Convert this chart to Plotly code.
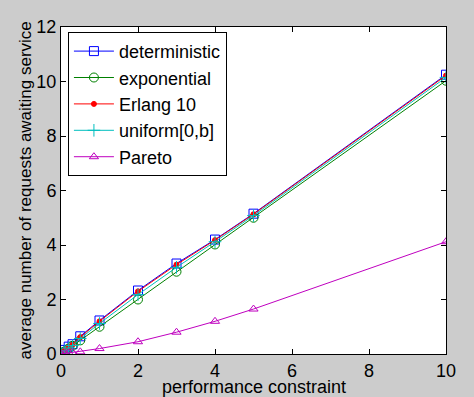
import plotly.graph_objects as go

x_vals = [0, 0.1, 0.2, 0.3, 0.5, 1, 2, 3, 4, 5, 10]
deterministic = [0.05, 0.15, 0.27, 0.36, 0.65, 1.23, 2.33, 3.32, 4.2, 5.15, 10.25]
exponential = [0.0, 0.1, 0.2, 0.3, 0.5, 1.0, 2.0, 3.02, 4.02, 5.0, 10.03]
erlang10 = [0.04, 0.14, 0.25, 0.34, 0.62, 1.2, 2.3, 3.28, 4.18, 5.13, 10.22]
uniform = [0.03, 0.12, 0.22, 0.31, 0.57, 1.12, 2.18, 3.18, 4.12, 5.08, 10.15]
pareto = [0.0, 0.02, 0.04, 0.05, 0.08, 0.2, 0.45, 0.8, 1.2, 1.65, 4.12]

x_ticks = [0, 2, 4, 6, 8, 10]
y_ticks = [0, 2, 4, 6, 8, 10, 12]
x_title = "performance constraint"
y_title = "average number of requests awaiting service"

series = [
    ("deterministic", deterministic, "#0000ff", "square-open", 9),
    ("exponential", exponential, "#008000", "circle-open", 9),
    ("Erlang 10", erlang10, "#ff0000", "circle", 5),
    ("uniform[0,b]", uniform, "#00bfbf", "cross-thin-open", 9),
    ("Pareto", pareto, "#bf00bf", "triangle-up-open", 8),
]

fig = go.Figure()
for name, ys, color, sym, size in series:
    fig.add_trace(go.Scatter(
        x=x_vals, y=ys, name=name, mode="lines+markers",
        line=dict(color=color, width=1),
        marker=dict(symbol=sym, size=size, color=color, line=dict(color=color, width=1)),
    ))

font = "Liberation Sans, Arial, sans-serif"
axis_common = dict(
    showgrid=False, zeroline=False, showline=True, linecolor="black", linewidth=1,
    mirror="ticks", ticks="inside", ticklen=5, tickcolor="black", automargin=False,
    tickfont=dict(family=font, size=18, color="black"),
)
fig.update_layout(
    width=474, height=397,
    margin=dict(l=61, r=28, t=27, b=43),
    paper_bgcolor="#cccccc", plot_bgcolor="white",
    xaxis=dict(range=[0, 10], tickvals=x_ticks, **axis_common),
    yaxis=dict(range=[0, 12], tickvals=y_ticks, **axis_common),
    legend=dict(x=0.018, y=0.985, xanchor="left", yanchor="top",
                bgcolor="white", bordercolor="black", borderwidth=1,
                font=dict(family=font, size=18, color="black"),
                tracegroupgap=0, itemwidth=40),
    showlegend=True,
    annotations=[
        dict(text=x_title, xref="paper", yref="paper", x=0.5, y=-0.1,
             xanchor="center", yanchor="middle", showarrow=False,
             font=dict(family=font, size=18, color="black")),
        dict(text=y_title, xref="paper", yref="paper", x=-0.091, y=0.5,
             xanchor="center", yanchor="middle", showarrow=False, textangle=-90,
             font=dict(family=font, size=17, color="black")),
    ],
)
fig.write_html("out.html", config={"displayModeBar": False},
               post_script="document.body.style.margin='0';document.body.style.padding='0';")
